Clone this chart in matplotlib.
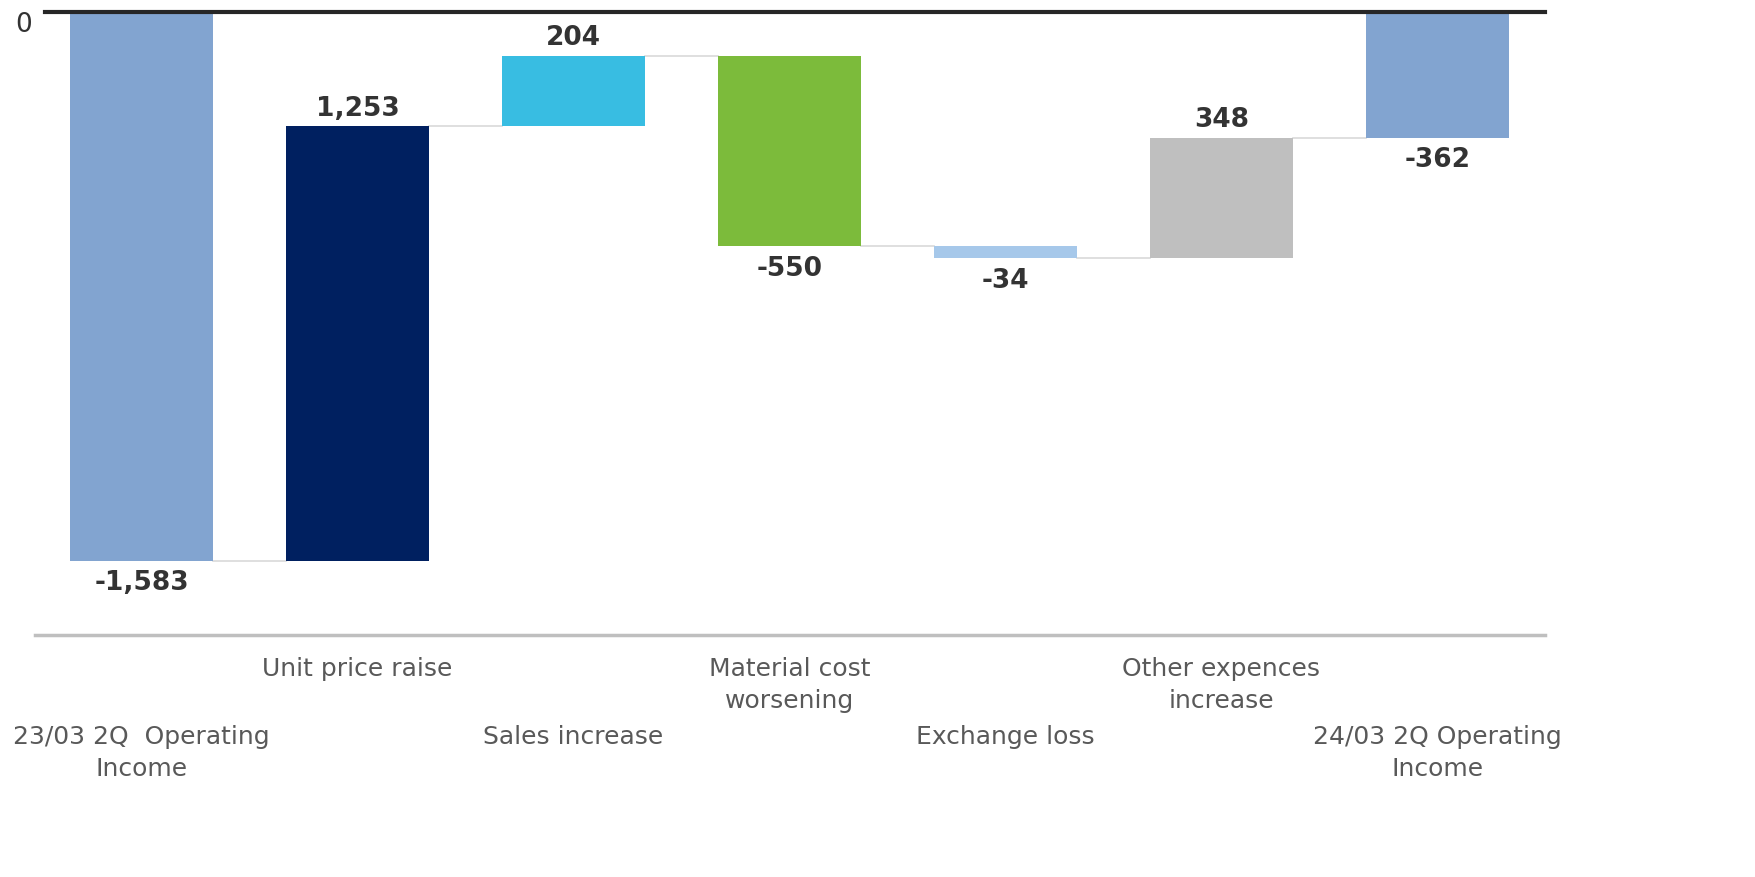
import numpy as np
import matplotlib
matplotlib.use("Agg")
import matplotlib.pyplot as plt

# data
categories = ["23/03 2Q  Operating\nIncome", "Unit price raise", "Sales increase",
              "Material cost\nworsening", "Exchange loss", "Other expences\nincrease",
              "24/03 2Q Operating\nIncome"]
values = [-1583, 1253, 204, -550, -34, 348, -362]
is_total = [True, False, False, False, False, False, True]
labels = ["-1,583", "1,253", "204", "-550", "-34", "348", "-362"]
colors = ["#82A4D0", "#002060", "#38BDE2", "#7CBB3B", "#A6C8EA", "#BFBFBF", "#82A4D0"]

# waterfall bottoms / tops
bottoms, heights, levels = [], [], []
run = 0
for v, tot in zip(values, is_total):
    if tot:
        bottoms.append(0)
        heights.append(v)
        run = v
    else:
        bottoms.append(run)
        heights.append(v)
        run = run + v
    levels.append(run)

fig = plt.figure(figsize=(17.55, 8.78), dpi=100)
ax = fig.add_axes([35/1755, 1-636/878, 1510/1755, 623/878])

x = np.arange(len(values))
w = 0.662
ax.bar(x, heights, bottom=bottoms, width=w, color=colors, zorder=2)

# connector lines
for i in range(len(values)-1):
    ax.plot([x[i]+w/2, x[i+1]-w/2], [levels[i], levels[i]], color="#d9d9d9", lw=1.2, zorder=1)

# value labels
for i, (v, tot) in enumerate(zip(values, is_total)):
    lo = min(bottoms[i], bottoms[i]+heights[i])
    hi = max(bottoms[i], bottoms[i]+heights[i])
    if v >= 0:
        ax.annotate(labels[i], (x[i], hi), xytext=(0, 4), textcoords="offset points",
                    ha="center", va="bottom", fontsize=19, fontweight="bold", color="#333333")
    else:
        ax.annotate(labels[i], (x[i], lo), xytext=(0, -6), textcoords="offset points",
                    ha="center", va="top", fontsize=19, fontweight="bold", color="#333333")

ax.set_xlim(-0.493, 6.498)
ax.set_ylim(-1796, 0)
for s in ["top", "right", "left"]:
    ax.spines[s].set_visible(False)
ax.spines["bottom"].set_color("#bfbfbf")
ax.spines["bottom"].set_linewidth(2.5)
ax.set_xticks([])
ax.set_yticks([])
ax.axhline(0, xmin=10/1510, xmax=1, color="#262626", lw=3, zorder=3, clip_on=False)
fig.text(24/1755, 1-25/878, "0", ha="center", va="center", fontsize=19, color="#333333")

# staggered category labels
tr = ax.get_xaxis_transform()
for i, c in enumerate(categories):
    y = -0.033 if i % 2 == 1 else -0.143
    ax.text(x[i], y, c, transform=tr, ha="center", va="top", fontsize=18,
            color="#595959", linespacing=1.42)

fig.savefig("out.png", dpi=100)
